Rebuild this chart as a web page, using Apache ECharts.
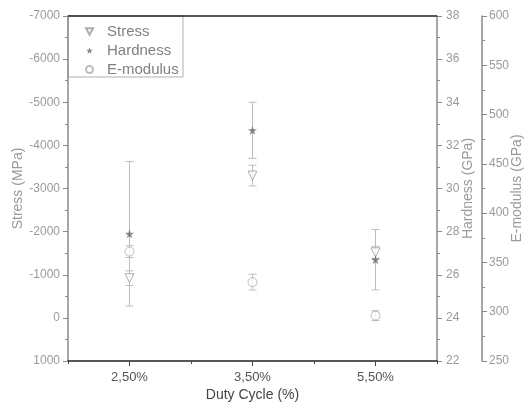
<!DOCTYPE html>
<html>
<head>
<meta charset="utf-8">
<script src="https://cdn.jsdelivr.net/npm/echarts@6/dist/echarts.min.js"></script>
<style>html,body{margin:0;padding:0;background:#fff;}#c{width:528px;height:403px;}</style>
</head>
<body>
<div id="c"></div>
<script>
var categories = ['2,50%', '3,50%', '5,50%'];
var stress = [-920, -3300, -1520];
var stressErr = [170, 240, 140];
var hardness = [27.9, 32.7, 26.7];
var hardnessErr = [3.35, 1.3, 1.4];
var emod = [361, 330, 296];
var emodErr = [6, 8, 5];

var starPath = 'path://M50,0 L61,35 L98,35 L68,57 L79,91 L50,70 L21,91 L32,57 L2,35 L39,35 Z';
var triDownPath = 'path://M0,0 L10,0 L5,9 Z';

function errData(vals, errs) {
  return vals.map(function (v, i) { return [i, v - errs[i], v + errs[i]]; });
}
function errSeries(vals, errs, yIdx) {
  return {
    type: 'custom',
    xAxisIndex: 0,
    yAxisIndex: yIdx,
    silent: true,
    z: 1,
    data: errData(vals, errs),
    encode: { x: 0, y: [1, 2] },
    renderItem: function (params, api) {
      var x = api.value(0);
      var a = api.coord([x, api.value(1)]);
      var b = api.coord([x, api.value(2)]);
      var w = 4;
      var st = { stroke: '#bdbdbd', lineWidth: 1 };
      return {
        type: 'group',
        children: [
          { type: 'line', shape: { x1: a[0], y1: a[1], x2: b[0], y2: b[1] }, style: st },
          { type: 'line', shape: { x1: a[0] - w, y1: a[1], x2: a[0] + w, y2: a[1] }, style: st },
          { type: 'line', shape: { x1: b[0] - w, y1: b[1], x2: b[0] + w, y2: b[1] }, style: st }
        ]
      };
    }
  };
}

var chart = echarts.init(document.getElementById('c'));
var axisTxt = { color: '#9a9a9a', fontSize: 12, fontFamily: 'Liberation Sans', formatter: function (v) { return String(v); } };
var nameTxt = { color: '#9a9a9a', fontSize: 14, fontFamily: 'Liberation Sans' };

chart.setOption({
  animation: false,
  backgroundColor: '#fff',
  grid: { left: 68, right: 91, top: 16, bottom: 42, outerBoundsMode: 'none', containLabel: false },
  legend: {
    orient: 'vertical',
    left: 80,
    top: 19,
    itemGap: 4,
    itemWidth: 7,
    itemHeight: 7,
    textStyle: { color: '#808080', fontSize: 15, fontFamily: 'Liberation Sans', padding: [0, 0, 0, 9] },
    data: [
      { name: 'Stress', icon: triDownPath },
      { name: 'Hardness', icon: starPath },
      { name: 'E-modulus', icon: 'circle' }
    ]
  },
  graphic: [
    { type: 'rect', z: -1, shape: { x: 68, y: 16, width: 115, height: 61 }, style: { fill: 'none', stroke: '#b0b0b0', lineWidth: 1 } },
    { type: 'line', z: 10, shape: { x1: 68, y1: 16, x2: 437, y2: 16 }, style: { stroke: '#222', lineWidth: 1.5 } }
  ],
  xAxis: [
    {
      type: 'category',
      data: categories,
      boundaryGap: true,
      position: 'bottom',
      axisLine: { onZero: false, lineStyle: { color: '#222', width: 1.5 } },
      axisTick: { show: true, length: 3, lineStyle: { color: '#444' } },
      axisLabel: { color: '#555', fontSize: 13, margin: 10, fontFamily: 'Liberation Sans' },
      name: 'Duty Cycle (%)',
      nameLocation: 'middle',
      nameGap: 27,
      nameMoveOverlap: false,
      nameTextStyle: { color: '#444', fontSize: 14, fontFamily: 'Liberation Sans' },
      splitLine: { show: false }
    },
    {
      type: 'category',
      data: categories,
      boundaryGap: true,
      position: 'bottom',
      axisLine: { show: false, onZero: false },
      axisTick: { show: true, alignWithLabel: true, length: 5, lineStyle: { color: '#444' } },
      axisLabel: { show: false },
      splitLine: { show: false }
    }
  ],
  yAxis: [
    {
      type: 'value',
      position: 'left',
      inverse: true,
      min: -7000, max: 1000, interval: 1000,
      axisLine: { show: true, onZero: false, lineStyle: { color: '#8a8a8a', width: 1.5 } },
      axisTick: { show: true, length: 5, lineStyle: { color: '#8a8a8a' } },
      minorTick: { show: true, splitNumber: 2, length: 3, lineStyle: { color: '#8a8a8a' } },
      axisLabel: Object.assign({ margin: 8 }, axisTxt),
      splitLine: { show: false },
      name: 'Stress (MPa)',
      nameLocation: 'middle',
      nameGap: 43,
      nameMoveOverlap: false,
      nameTextStyle: nameTxt
    },
    {
      type: 'value',
      position: 'right',
      min: 22, max: 38, interval: 2,
      axisLine: { show: true, onZero: false, lineStyle: { color: '#8a8a8a', width: 1.5 } },
      axisTick: { show: true, length: 5, lineStyle: { color: '#8a8a8a' } },
      minorTick: { show: true, splitNumber: 2, length: 3, lineStyle: { color: '#8a8a8a' } },
      axisLabel: Object.assign({ margin: 9 }, axisTxt),
      splitLine: { show: false },
      name: 'Hardness (GPa)',
      nameLocation: 'middle',
      nameGap: 24,
      nameMoveOverlap: false,
      nameTextStyle: nameTxt
    },
    {
      type: 'value',
      position: 'right',
      offset: 45,
      min: 250, max: 600, interval: 50,
      axisLine: { show: true, onZero: false, lineStyle: { color: '#8a8a8a', width: 1.5 } },
      axisTick: { show: true, length: 5, lineStyle: { color: '#8a8a8a' } },
      minorTick: { show: true, splitNumber: 2, length: 3, lineStyle: { color: '#8a8a8a' } },
      axisLabel: Object.assign({ margin: 7 }, axisTxt),
      splitLine: { show: false },
      name: 'E-modulus (GPa)',
      nameLocation: 'middle',
      nameGap: 28,
      nameMoveOverlap: false,
      nameTextStyle: nameTxt
    }
  ],
  series: [
    errSeries(stress, stressErr, 0),
    errSeries(hardness, hardnessErr, 1),
    errSeries(emod, emodErr, 2),
    {
      name: 'Stress',
      type: 'scatter',
      xAxisIndex: 0,
      yAxisIndex: 0,
      symbol: 'triangle',
      symbolRotate: 180,
      symbolSize: 9,
      z: 3,
      itemStyle: { color: '#fff', borderColor: '#9a9a9a', borderWidth: 1 },
      data: stress
    },
    {
      name: 'Hardness',
      type: 'scatter',
      xAxisIndex: 0,
      yAxisIndex: 1,
      symbol: starPath,
      symbolSize: 9,
      z: 4,
      itemStyle: { color: '#6a6a6a' },
      data: hardness
    },
    {
      name: 'E-modulus',
      type: 'scatter',
      xAxisIndex: 0,
      yAxisIndex: 2,
      symbol: 'circle',
      symbolSize: 9,
      z: 3,
      itemStyle: { color: '#fff', borderColor: '#aaaaaa', borderWidth: 1 },
      data: emod
    }
  ]
});
</script>
</body>
</html>
